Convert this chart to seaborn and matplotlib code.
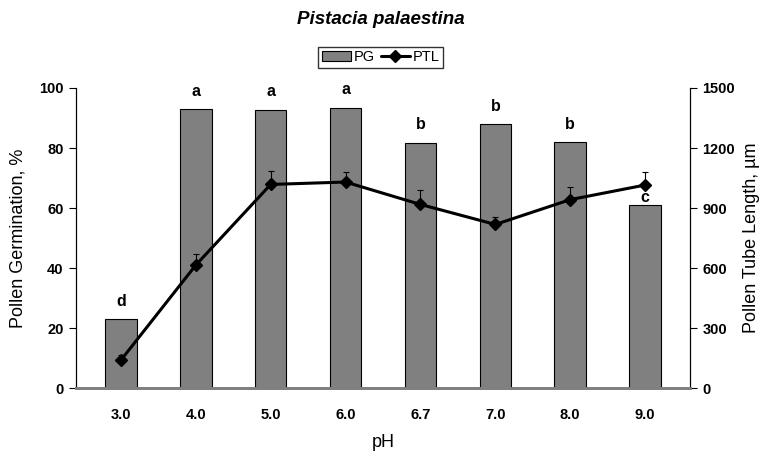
import numpy as np
import pandas as pd
import matplotlib
matplotlib.use("Agg")
import matplotlib.pyplot as plt
import seaborn as sns
from matplotlib.patches import Patch
from matplotlib.lines import Line2D

sns.set_style("white")
plt.rcParams["font.family"] = ["Liberation Sans", "DejaVu Sans"]
plt.rcParams.update({"text.color": "black", "axes.labelcolor": "black",
                     "xtick.color": "black", "ytick.color": "black"})

# ---------- data ----------
ph_labels = ["3.0", "4.0", "5.0", "6.0", "6.7", "7.0", "8.0", "9.0"]
pg_values = [23, 93, 92.8, 93.4, 81.8, 88, 82, 61]          # germination, %
ptl_values = [140, 615, 1018, 1030, 918, 818, 942, 1015]    # tube length, um
ptl_errors = [28, 55, 65, 48, 70, 38, 62, 65]
sig_letters = ["d", "a", "a", "a", "b", "b", "b", "c"]

df = pd.DataFrame({"pH": ph_labels, "PG": pg_values, "PTL": ptl_values, "err": ptl_errors})

fig = plt.figure(figsize=(7.61, 4.55), dpi=100)
ax = fig.add_axes([0.0999, 0.147, 0.8068, 0.6596])

# bars for pollen germination
sns.barplot(data=df, x="pH", y="PG", color="#808080", width=0.42,
            edgecolor="black", linewidth=0.8, saturation=1, ax=ax)
ax.set_ylim(0, 100)
ax.set_yticks(np.arange(0, 101, 20))
ax.set_ylabel("Pollen Germination, %", fontsize=13, labelpad=9)
ax.set_xlabel("pH", fontsize=13, labelpad=9)
for lbl in ax.get_yticklabels() + ax.get_xticklabels():
    lbl.set_fontweight("bold")
    lbl.set_fontsize(10.5)
ax.tick_params(axis="y", direction="out", length=5, width=0.8, left=True, pad=4)
ax.tick_params(axis="x", length=0, pad=14)

# significance letters
for i, (v, letter) in enumerate(zip(pg_values, sig_letters)):
    off = 0.0 if letter == "c" else 3.5
    ax.text(i, v + off, letter, ha="center", va="bottom", fontsize=11.5, fontweight="bold")

# line for pollen tube length on secondary axis
ax2 = ax.twinx()
x = np.arange(len(ph_labels))
ax2.errorbar(x, df["PTL"], yerr=[np.zeros(len(x)), df["err"]], color="black",
             lw=2.2, marker="D", markersize=6, elinewidth=0.8, capsize=2.5, capthick=0.8)
ax2.set_ylim(0, 1500)
ax2.set_yticks(np.arange(0, 1501, 300))
ax2.set_ylabel("Pollen Tube Length, µm", fontsize=13, labelpad=6)
for lbl in ax2.get_yticklabels():
    lbl.set_fontweight("bold")
    lbl.set_fontsize(10.5)
ax2.tick_params(axis="y", direction="out", length=5, width=0.8, right=True, pad=4)
ax.set_xlim(-0.6, len(x) - 0.4)

for a in (ax, ax2):
    a.spines["top"].set_visible(False)
    a.spines["left"].set_color("black")
    a.spines["right"].set_color("black")
    a.spines["left"].set_linewidth(0.8)
    a.spines["right"].set_linewidth(0.8)
    a.spines["bottom"].set_color("#808080")
    a.spines["bottom"].set_linewidth(2)

# legend
handles = [Patch(facecolor="#808080", edgecolor="black", linewidth=0.8, label="PG"),
           Line2D([0], [0], color="black", lw=2.2, marker="D", markersize=6, label="PTL")]
fig.legend(handles=handles, loc="center", bbox_to_anchor=(0.5, 0.874), ncol=2,
           frameon=True, fancybox=False, edgecolor="black", fontsize=10.5,
           handlelength=2, handletextpad=0.2, columnspacing=0.4,
           borderpad=0.25, borderaxespad=0)

fig.suptitle("Pistacia palaestina", y=0.975, fontsize=13.5, fontweight="bold", style="italic")

fig.savefig("out.png", dpi=100)
